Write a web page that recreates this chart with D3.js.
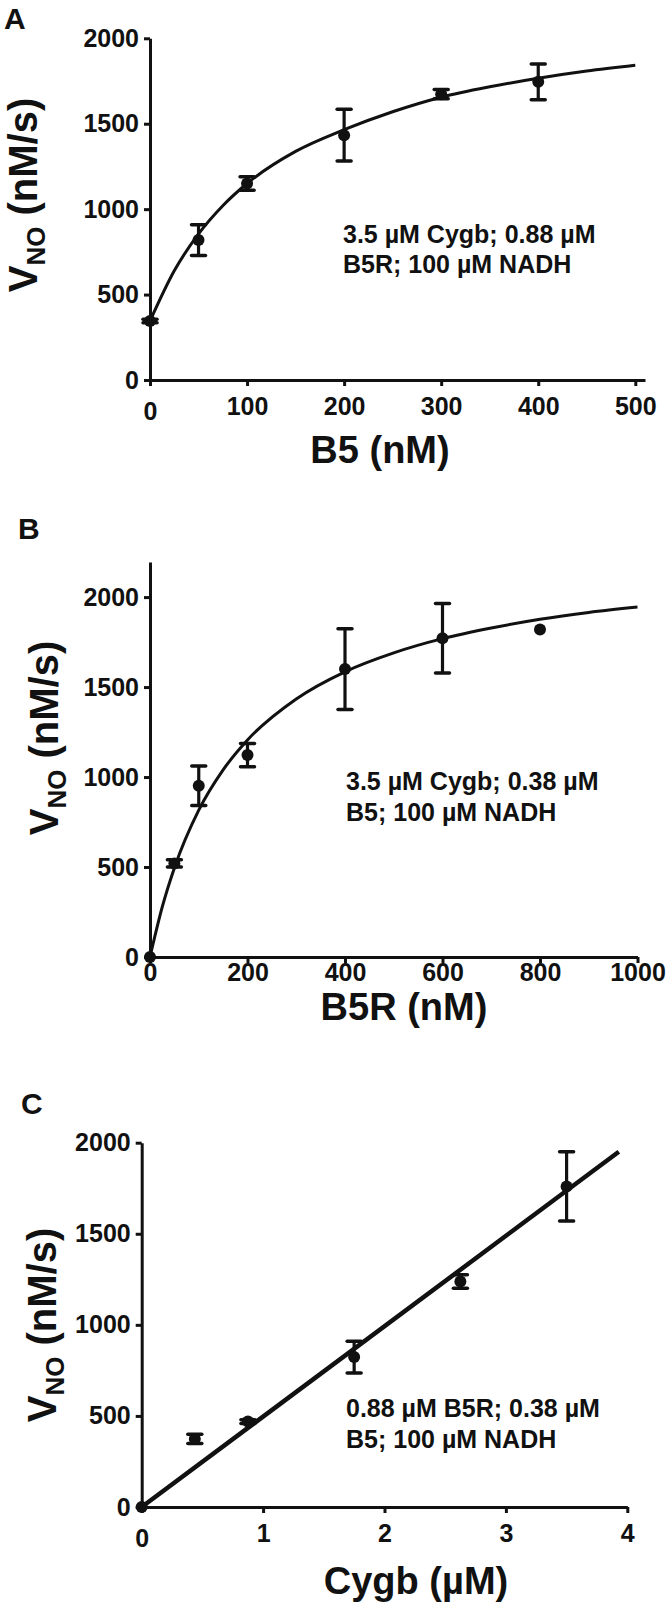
<!DOCTYPE html>
<html>
<head>
<meta charset="utf-8">
<script src="https://cdn.jsdelivr.net/npm/d3@7"></script>
<style>
  body { margin: 0; background: #fff; }
  svg { display: block; }
  text { font-family: "Liberation Sans", Arial, sans-serif; font-weight: bold; fill: #111; }
</style>
</head>
<body>
<div id="chart"></div>
<script>
// Panel A: rate vs B5
const b5Conc = [0, 50, 100, 200, 300, 400];
const b5Rate = [345, 819, 1150, 1433, 1673, 1745];
const b5Err = [10, 90, 39, 151, 27, 105];
const b5FitX = [0, 25, 50, 75, 100, 150, 200, 250, 300, 350, 400, 450, 500];
const b5FitY = [345, 639, 855, 1020, 1150, 1338, 1465, 1570, 1655, 1716, 1766, 1808, 1842];
const b5Ticks = [0, 100, 200, 300, 400, 500];

// Panel B: rate vs B5R
const b5rConc = [0, 50, 100, 200, 400, 600, 800];
const b5rRate = [0, 520, 952, 1122, 1600, 1771, 1820];
const b5rErr = [0, 20, 110, 65, 224, 193, 0];
const b5rFitX = [0, 25, 50, 100, 150, 200, 300, 400, 500, 600, 700, 800, 900, 1000];
const b5rFitY = [0, 277, 495, 816, 1040, 1206, 1434, 1585, 1690, 1769, 1828, 1877, 1915, 1945];
const b5rTicks = [0, 200, 400, 600, 800, 1000];

// Panel C: rate vs Cygb
const cygbConc = [0, 0.4375, 0.875, 1.75, 2.625, 3.5];
const cygbRate = [0, 374, 469, 823, 1238, 1760];
const cygbErr = [0, 25, 10, 87, 37, 190];
const cygbFitX = [0, 3.93];
const cygbFitY = [0, 1950];
const cygbTicks = [0, 1, 2, 3, 4];

const rateTicks = [0, 500, 1000, 1500, 2000];

const svg = d3.select("#chart").append("svg")
  .attr("width", 666)
  .attr("height", 1608);

function drawPanel(p) {
  const x = d3.scaleLinear().domain(p.xDomain).range(p.xRange);
  const y = d3.scaleLinear().domain(p.yDomain).range(p.yRange);
  const g = svg.append("g");

  const yAxisG = g.append("g")
    .attr("transform", `translate(${p.xRange[0]},0)`)
    .call(d3.axisLeft(y).tickValues(rateTicks).tickFormat(d3.format("d"))
      .tickSize(6).tickPadding(5).tickSizeOuter(0));

  const xAxisG = g.append("g")
    .attr("transform", `translate(0,${p.yRange[0]})`)
    .call(d3.axisBottom(x).tickValues(p.xTicks).tickFormat(d3.format("d"))
      .tickSize(6).tickSizeOuter(0));

  [yAxisG, xAxisG].forEach((a) => {
    a.attr("font-family", null).attr("font-size", null);
    a.select(".domain").attr("stroke", "#111").attr("stroke-width", 3);
    a.selectAll(".tick line").attr("stroke", "#111").attr("stroke-width", 3);
    a.selectAll(".tick text").style("font-size", "25px").attr("fill", "#111");
  });
  xAxisG.selectAll(".tick text")
    .attr("dy", 0)
    .attr("y", (d) => (d === 0 && p.zeroDrop ? p.labelOffset + 5 : p.labelOffset));

  // fitted curve
  const fit = p.fitX.map((v, i) => [v, p.fitY[i]]);
  g.append("path")
    .datum(fit)
    .attr("fill", "none")
    .attr("stroke", "#111")
    .attr("stroke-width", p.fitWidth)
    .attr("d", d3.line().x((d) => x(d[0])).y((d) => y(d[1])).curve(d3.curveMonotoneX));

  const pts = p.xs.map((v, i) => ({ x: v, y: p.ys[i], e: p.errs[i] }));

  // error bars
  const eb = g.selectAll(".err").data(pts.filter((d) => d.e > 0)).join("g").attr("class", "err");
  eb.append("line")
    .attr("x1", (d) => x(d.x)).attr("x2", (d) => x(d.x))
    .attr("y1", (d) => y(d.y - d.e)).attr("y2", (d) => y(d.y + d.e))
    .attr("stroke", "#111").attr("stroke-width", 3.2);
  [-1, 1].forEach((s) => {
    eb.append("line")
      .attr("x1", (d) => x(d.x) - 7).attr("x2", (d) => x(d.x) + 7)
      .attr("y1", (d) => y(d.y + s * d.e)).attr("y2", (d) => y(d.y + s * d.e))
      .attr("stroke", "#111").attr("stroke-width", 3.5)
      .attr("stroke-linecap", "round");
  });

  g.selectAll(".pt").data(pts).join("circle")
    .attr("class", "pt")
    .attr("cx", (d) => x(d.x))
    .attr("cy", (d) => y(d.y))
    .attr("r", 6)
    .attr("fill", "#111");

  // panel letter
  g.append("text")
    .attr("x", p.letterPos[0]).attr("y", p.letterPos[1])
    .style("font-size", "30px")
    .text(p.letter);

  // y title
  const yt = g.append("text")
    .attr("transform", `translate(${p.yTitlePos[0]},${p.yTitlePos[1]}) rotate(-90)`)
    .attr("text-anchor", "middle")
    .style("font-size", "40px");
  yt.append("tspan").text("V");
  yt.append("tspan").attr("dy", "0.3em").style("font-size", "26px").text("NO");
  yt.append("tspan").attr("dy", "-0.2em").text(" (nM/s)");

  // x title
  g.append("text")
    .attr("x", p.xTitlePos[0]).attr("y", p.xTitlePos[1])
    .attr("text-anchor", "middle")
    .style("font-size", "38px")
    .text(p.xTitle);

  // conditions note
  p.note.forEach((line, i) => {
    g.append("text")
      .attr("x", p.notePos[0]).attr("y", p.notePos[1] + i * 30.5)
      .style("font-size", "25px")
      .text(line);
  });
}

drawPanel({
  letter: "A", letterPos: [4, 29],
  xs: b5Conc, ys: b5Rate, errs: b5Err, fitX: b5FitX, fitY: b5FitY, fitWidth: 3,
  xDomain: [0, 510], xRange: [150, 645], xTicks: b5Ticks, zeroDrop: true, labelOffset: 35,
  yDomain: [0, 2000], yRange: [380, 38.3],
  yTitlePos: [37, 195], xTitle: "B5 (nM)", xTitlePos: [380, 463],
  note: ["3.5 µM Cygb; 0.88 µM", "B5R; 100 µM NADH"], notePos: [343, 242.7]
});

drawPanel({
  letter: "B", letterPos: [18, 539],
  xs: b5rConc, ys: b5rRate, errs: b5rErr, fitX: b5rFitX, fitY: b5rFitY, fitWidth: 3,
  xDomain: [0, 1000], xRange: [150, 637.5], xTicks: b5rTicks, zeroDrop: false, labelOffset: 24,
  yDomain: [0, 2195], yRange: [957, 562],
  yTitlePos: [58, 738], xTitle: "B5R (nM)", xTitlePos: [404, 1020],
  note: ["3.5 µM Cygb; 0.38 µM", "B5; 100 µM NADH"], notePos: [346, 790]
});

drawPanel({
  letter: "C", letterPos: [21, 1114],
  xs: cygbConc, ys: cygbRate, errs: cygbErr, fitX: cygbFitX, fitY: cygbFitY, fitWidth: 4.5,
  xDomain: [0, 4], xRange: [141.7, 627.3], xTicks: cygbTicks, zeroDrop: true, labelOffset: 35,
  yDomain: [0, 2000], yRange: [1507, 1142.7],
  yTitlePos: [56, 1325], xTitle: "Cygb (µM)", xTitlePos: [416, 1594],
  note: ["0.88 µM B5R; 0.38 µM", "B5; 100 µM NADH"], notePos: [346, 1417]
});
</script>
</body>
</html>
